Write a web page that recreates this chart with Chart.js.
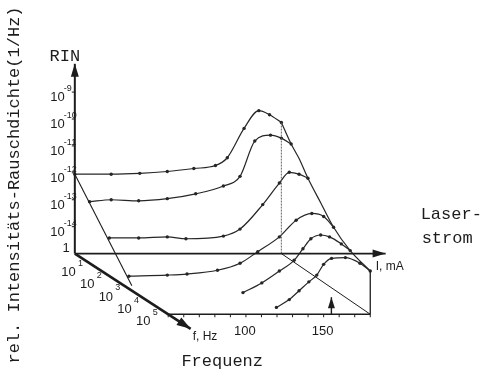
<!DOCTYPE html>
<html>
<head>
<meta charset="utf-8">
<script src="https://cdn.jsdelivr.net/npm/chart.js@4.4.1/dist/chart.umd.min.js"></script>
<style>
  html, body { margin: 0; padding: 0; background: #fff; }
  canvas { display: block; }
</style>
</head>
<body>
<canvas id="rin" width="488" height="376"></canvas>
<script>
// Values. x = laser current projected on the back plane (mA),
// y = log10 of the relative intensity noise (decades, -15 is the "1" floor).
const rinExponents = [-9, -10, -11, -12, -13, -14];
const rinFloor = -15;
const freqExponents = [1, 2, 3, 4, 5];
const currentTicks = [50, 60, 70, 80, 90, 100, 110, 120, 130, 140, 150, 160, 170, 180];
const currentLabels = [100, 150];
const thresholdCurrent = 155;

const curve1 = [[50, -12.05], [73.4, -12.05], [91.8, -12.02], [109.5, -11.95], [126.6, -11.84], [140.5, -11.73], [148.1, -11.44], [158.9, -10.35], [168.4, -9.69], [175.3, -9.84], [182.9, -10.13]];
const curve2 = [[59.5, -13.07], [73.4, -13.0], [91.1, -13.04], [109.5, -12.96], [127.8, -12.78], [145.6, -12.49], [156.3, -12.13], [165.8, -10.82], [175.9, -10.6], [182.9, -10.71], [189.2, -10.93]];
const curve3 = [[72.2, -14.42], [91.1, -14.42], [109.5, -14.38], [121.5, -14.45], [145.6, -14.35], [156.3, -14.09], [170.9, -13.18], [181.6, -12.38], [188.0, -11.98], [194.3, -12.05], [200.0, -12.2]];
const curve4 = [[84.8, -15.84], [109.5, -15.8], [122.2, -15.76], [141.8, -15.62], [156.3, -15.36], [167.7, -14.93], [181.6, -14.38], [192.4, -13.76], [202.5, -13.51], [210.1, -13.62], [216.5, -14.02]];
const curve5 = [[158.2, -16.45], [170.3, -16.09], [181.6, -15.65], [191.1, -15.25], [196.8, -14.82], [201.9, -14.45], [208.2, -14.31], [213.9, -14.38], [221.5, -14.64], [227.2, -14.89]];
const curve6 = [[179.7, -17.0], [188.0, -16.71], [194.3, -16.38], [200.6, -16.05], [205.7, -15.8], [210.1, -15.4], [215.2, -15.18], [224.1, -15.15], [233.5, -15.36], [240.1, -15.65]];
const envelope = [[182.9, -10.13], [189.2, -10.93], [194.3, -11.47], [200.0, -12.2], [208.2, -13.11], [216.5, -14.02], [227.2, -14.89], [240.1, -15.65]];
const lowCurrentEdge = [[50, -12.05], [86.7, -16.2]];

// oblique projection of the frequency axis (depth 0 = back plane, 1 = front plane)
const DEPTH_DX = 60.1;
const DEPTH_DY = 2.2545;
const proj = (i, e, d) => ({ x: i + d * DEPTH_DX, y: e - d * DEPTH_DY });
const pts = arr => arr.map(p => ({ x: p[0], y: p[1] }));

const INK = '#1c1c1c';
const MONO = '"Liberation Mono", "DejaVu Sans Mono", monospace';
const SANS = '"Liberation Sans", Arial, sans-serif';

function curve(data) {
    return { data: pts(data), showLine: true, borderColor: '#262626', borderWidth: 1.2,
        cubicInterpolationMode: 'monotone', pointRadius: 1.7, pointBackgroundColor: '#262626', pointBorderWidth: 0 };
}
function stroke(data, width, color = INK, dash = []) {
    return { data, showLine: true, borderColor: color, borderWidth: width, borderDash: dash,
        tension: 0, pointRadius: 0 };
}

const frontStart = proj(currentTicks[0], rinFloor, 1);
const frontEnd = proj(currentTicks[currentTicks.length - 1], rinFloor, 1);
const rinTop = { x: 50, y: -7.95 };
const currentTip = { x: 250, y: rinFloor };
const freqTip = proj(50, rinFloor, 1.24);
const threshBase = proj(thresholdCurrent, rinFloor, 1);
const threshTip = { x: threshBase.x, y: -16.62 };

function arrowHead(ctx, a, b, len, half) {
    const ang = Math.atan2(b[1] - a[1], b[0] - a[0]);
    const c = Math.cos(ang), s = Math.sin(ang);
    ctx.beginPath();
    ctx.moveTo(b[0], b[1]);
    ctx.lineTo(b[0] - len * c + half * s, b[1] - len * s - half * c);
    ctx.lineTo(b[0] - len * c - half * s, b[1] - len * s + half * c);
    ctx.closePath();
    ctx.fill();
}

const decor = {
    id: 'decor',
    afterDatasetsDraw(chart) {
        const { ctx, scales: { x, y } } = chart;
        const P = p => [x.getPixelForValue(p.x), y.getPixelForValue(p.y)];
        ctx.save();
        ctx.fillStyle = INK;
        ctx.strokeStyle = INK;

        // arrow heads
        arrowHead(ctx, P({ x: 50, y: rinFloor }), P(rinTop), 13, 4);
        arrowHead(ctx, P({ x: 50, y: rinFloor }), P(currentTip), 13, 4);
        arrowHead(ctx, P(proj(50, rinFloor, 0)), P(freqTip), 14, 4.5);
        arrowHead(ctx, P(threshBase), P(threshTip), 11, 3.5);

        // RIN axis ticks and labels
        ctx.lineWidth = 1;
        const [ax] = P({ x: 50, y: rinFloor });
        rinExponents.forEach(e => {
            const [, ty] = P({ x: 50, y: e });
            ctx.beginPath(); ctx.moveTo(ax - 3, ty); ctx.lineTo(ax, ty); ctx.stroke();
            ctx.font = '13px ' + SANS;
            ctx.textAlign = 'right'; ctx.textBaseline = 'alphabetic';
            ctx.fillText('10', ax - 10, ty + 9);
            ctx.font = '9px ' + SANS;
            ctx.textAlign = 'left';
            ctx.fillText(String(e).replace('-', '\u2011'), ax - 11, ty - 1);
        });
        const [, fy] = P({ x: 50, y: rinFloor });
        ctx.font = '13px ' + SANS;
        ctx.textAlign = 'right';
        ctx.fillText('1', ax - 5, fy - 2);

        // frequency axis labels
        freqExponents.forEach(k => {
            const [fx, fyy] = P(proj(50, rinFloor, k * 0.2));
            ctx.font = '13px ' + SANS;
            ctx.textAlign = 'center'; ctx.textBaseline = 'middle';
            ctx.fillText('10', fx - 25, fyy + 7);
            ctx.font = '9px ' + SANS;
            ctx.fillText(String(k), fx - 13, fyy - 2);
        });

        // front current axis ticks and labels
        currentTicks.forEach(i => {
            const [tx, ty] = P(proj(i, rinFloor, 1));
            ctx.beginPath(); ctx.moveTo(tx, ty); ctx.lineTo(tx, ty + 3); ctx.stroke();
        });
        ctx.font = '13px ' + SANS;
        ctx.textAlign = 'center'; ctx.textBaseline = 'top';
        currentLabels.forEach(i => {
            const [tx, ty] = P(proj(i, rinFloor, 1));
            ctx.fillText(String(i), tx - 1, ty + 11);
        });

        // axis names
        const [rx, ry] = P(rinTop);
        ctx.font = '17px ' + MONO;
        ctx.textAlign = 'center'; ctx.textBaseline = 'alphabetic';
        ctx.fillText('RIN', rx - 10, ry - 3);

        const [cx, cy] = P(currentTip);
        ctx.font = '12px ' + SANS;
        ctx.textAlign = 'left';
        ctx.fillText('I, mA', cx - 10, cy + 16);
        ctx.font = '17px ' + MONO;
        ctx.fillText('Laser-', cx + 35, cy - 35);
        ctx.fillText('strom', cx + 36, cy - 11);

        const [qx, qy] = P(freqTip);
        ctx.font = '12px ' + SANS;
        ctx.fillText('f, Hz', qx + 2, qy + 11);

        const [sx, sy] = P(frontStart);
        ctx.font = '17px ' + MONO;
        ctx.textAlign = 'center';
        ctx.fillText('Frequenz', sx + 54, sy + 52);

        ctx.save();
        ctx.translate(14, chart.height / 2 - 3);
        ctx.rotate(-Math.PI / 2);
        ctx.textBaseline = 'middle';
        ctx.fillText('rel. Intensitäts-Rauschdichte(1/Hz)', 0, 0);
        ctx.restore();

        ctx.restore();
    }
};

const PX_PER_MA = 1.58, PX_PER_DEC = 27.5;
const xMin = 50 - 72 / PX_PER_MA;
const yMax = rinFloor + 255 / PX_PER_DEC;

new Chart(document.getElementById('rin'), {
    type: 'scatter',
    data: {
        datasets: [
            stroke([{ x: 50, y: rinFloor }, rinTop], 2),
            stroke([{ x: 50, y: rinFloor }, currentTip], 1.8),
            stroke([proj(50, rinFloor, 0), freqTip], 2.6),
            stroke([frontStart, frontEnd], 1.5),
            stroke([frontEnd, { x: frontEnd.x, y: -15.65 }], 1.3),
            stroke([{ x: 182.9, y: rinFloor }, frontEnd], 1),
            stroke([{ x: 182.9, y: rinFloor }, { x: 182.9, y: -10.13 }], 0.9, '#555', [2, 1]),
            stroke([threshBase, threshTip], 1.4),
            stroke(pts(lowCurrentEdge), 1.1),
            { ...curve(envelope), pointRadius: 0 },
            curve(curve1), curve(curve2), curve(curve3),
            curve(curve4), curve(curve5), curve(curve6),
        ],
    },
    options: {
        responsive: false,
        animation: false,
        devicePixelRatio: 1,
        layout: { padding: 0 },
        scales: {
            x: { type: 'linear', display: false, min: xMin, max: xMin + 488 / PX_PER_MA },
            y: { type: 'linear', display: false, min: yMax - 376 / PX_PER_DEC, max: yMax },
        },
        plugins: { legend: { display: false }, tooltip: { enabled: false } },
        clip: false,
    },
    plugins: [decor],
});
</script>
</body>
</html>
